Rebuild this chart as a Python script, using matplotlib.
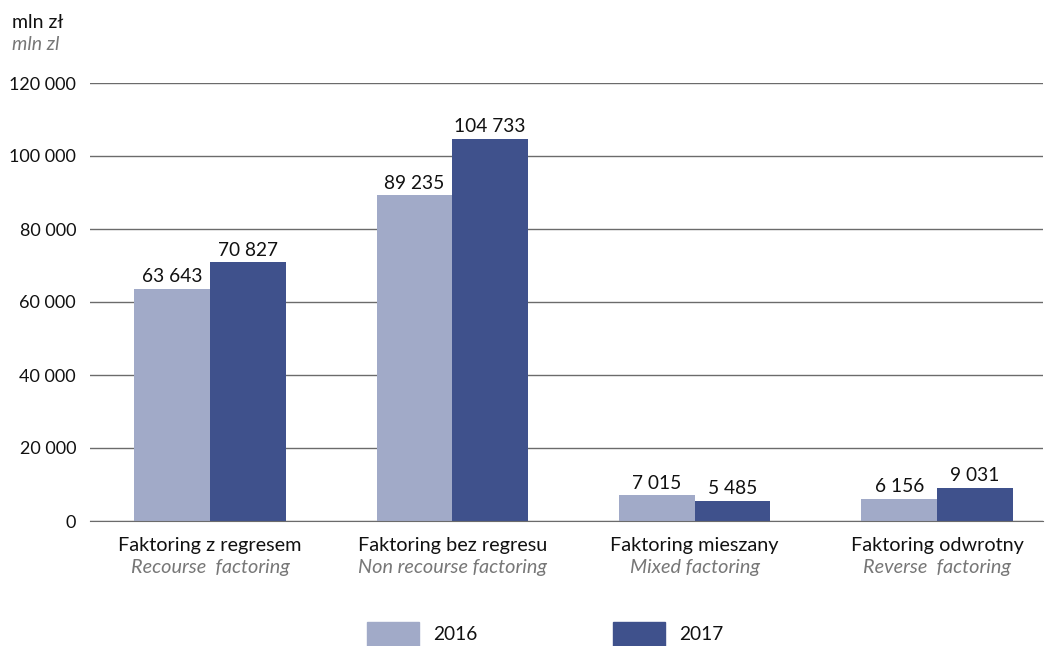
import matplotlib.pyplot as plt
import numpy as np

plt.rcParams['font.family'] = ['Lato', 'DejaVu Sans']

categories = ['Faktoring z regresem', 'Faktoring bez regresu',
              'Faktoring mieszany', 'Faktoring odwrotny']
categories_en = ['Recourse  factoring', 'Non recourse factoring',
                 'Mixed factoring', 'Reverse  factoring']
values_2016 = [63643, 89235, 7015, 6156]
values_2017 = [70827, 104733, 5485, 9031]
yticks = [0, 20000, 40000, 60000, 80000, 100000, 120000]

c16 = '#a1aac8'
c17 = '#3f518c'
grid_c = '#6b6b6b'


def fmt(v):
  return '{:,}'.format(v).replace(',', ' ')


fig = plt.figure(figsize=(10.49, 6.46), dpi=100)
ax = fig.add_axes([90 / 1049, 1 - 521 / 646, 953 / 1049, 438 / 646])

x = np.arange(len(categories))
w = 0.312
b16 = ax.bar(x - w / 2, values_2016, w, color=c16, zorder=3)
b17 = ax.bar(x + w / 2, values_2017, w, color=c17, zorder=3)

for bars, vals in ((b16, values_2016), (b17, values_2017)):
  for r, v in zip(bars, vals):
    ax.text(r.get_x() + r.get_width() / 2, v + 1000, fmt(v),
            ha='center', va='bottom', fontsize=13.8, color='#111111')

ax.set_ylim(0, 120000)
ax.set_xlim(-0.495, 3.437)
ax.set_yticks(yticks)
ax.set_yticklabels([fmt(t) for t in yticks], fontsize=13, color='#111111')
ax.yaxis.grid(True, color=grid_c, lw=1, zorder=0)
ax.tick_params(axis='y', length=0, pad=10)
ax.tick_params(axis='x', length=0)
ax.set_xticks([])
for s in ['top', 'right', 'left']:
  ax.spines[s].set_visible(False)
ax.spines['bottom'].set_color(grid_c)
ax.spines['bottom'].set_zorder(4)

# two-line category labels
for i in x:
  ax.text(i, -0.036, categories[i], transform=ax.get_xaxis_transform(),
          ha='center', va='top', fontsize=14.3, color='#111111')
  ax.text(i, -0.086, categories_en[i], transform=ax.get_xaxis_transform(),
          ha='center', va='top', fontsize=14.3, color='#777777', style='italic')

# unit labels
fig.text(12 / 1049, 1 - 22 / 646, 'mln zł', fontsize=14, color='#111111',
         va='center', ha='left')
fig.text(12 / 1049, 1 - 45 / 646, 'mln zl', fontsize=14, color='#777777',
         va='center', ha='left', style='italic')

# legend
for x0, col, lab in ((367, c16, '2016'), (613, c17, '2017')):
  fig.patches.append(plt.Rectangle((x0 / 1049, 0), 52 / 1049, 24 / 646,
                                   transform=fig.transFigure, color=col))
  fig.text((x0 + 66) / 1049, 1 - 634 / 646, lab, fontsize=13.8,
           color='#111111', va='center', ha='left')

fig.savefig('out.png', dpi=100)
